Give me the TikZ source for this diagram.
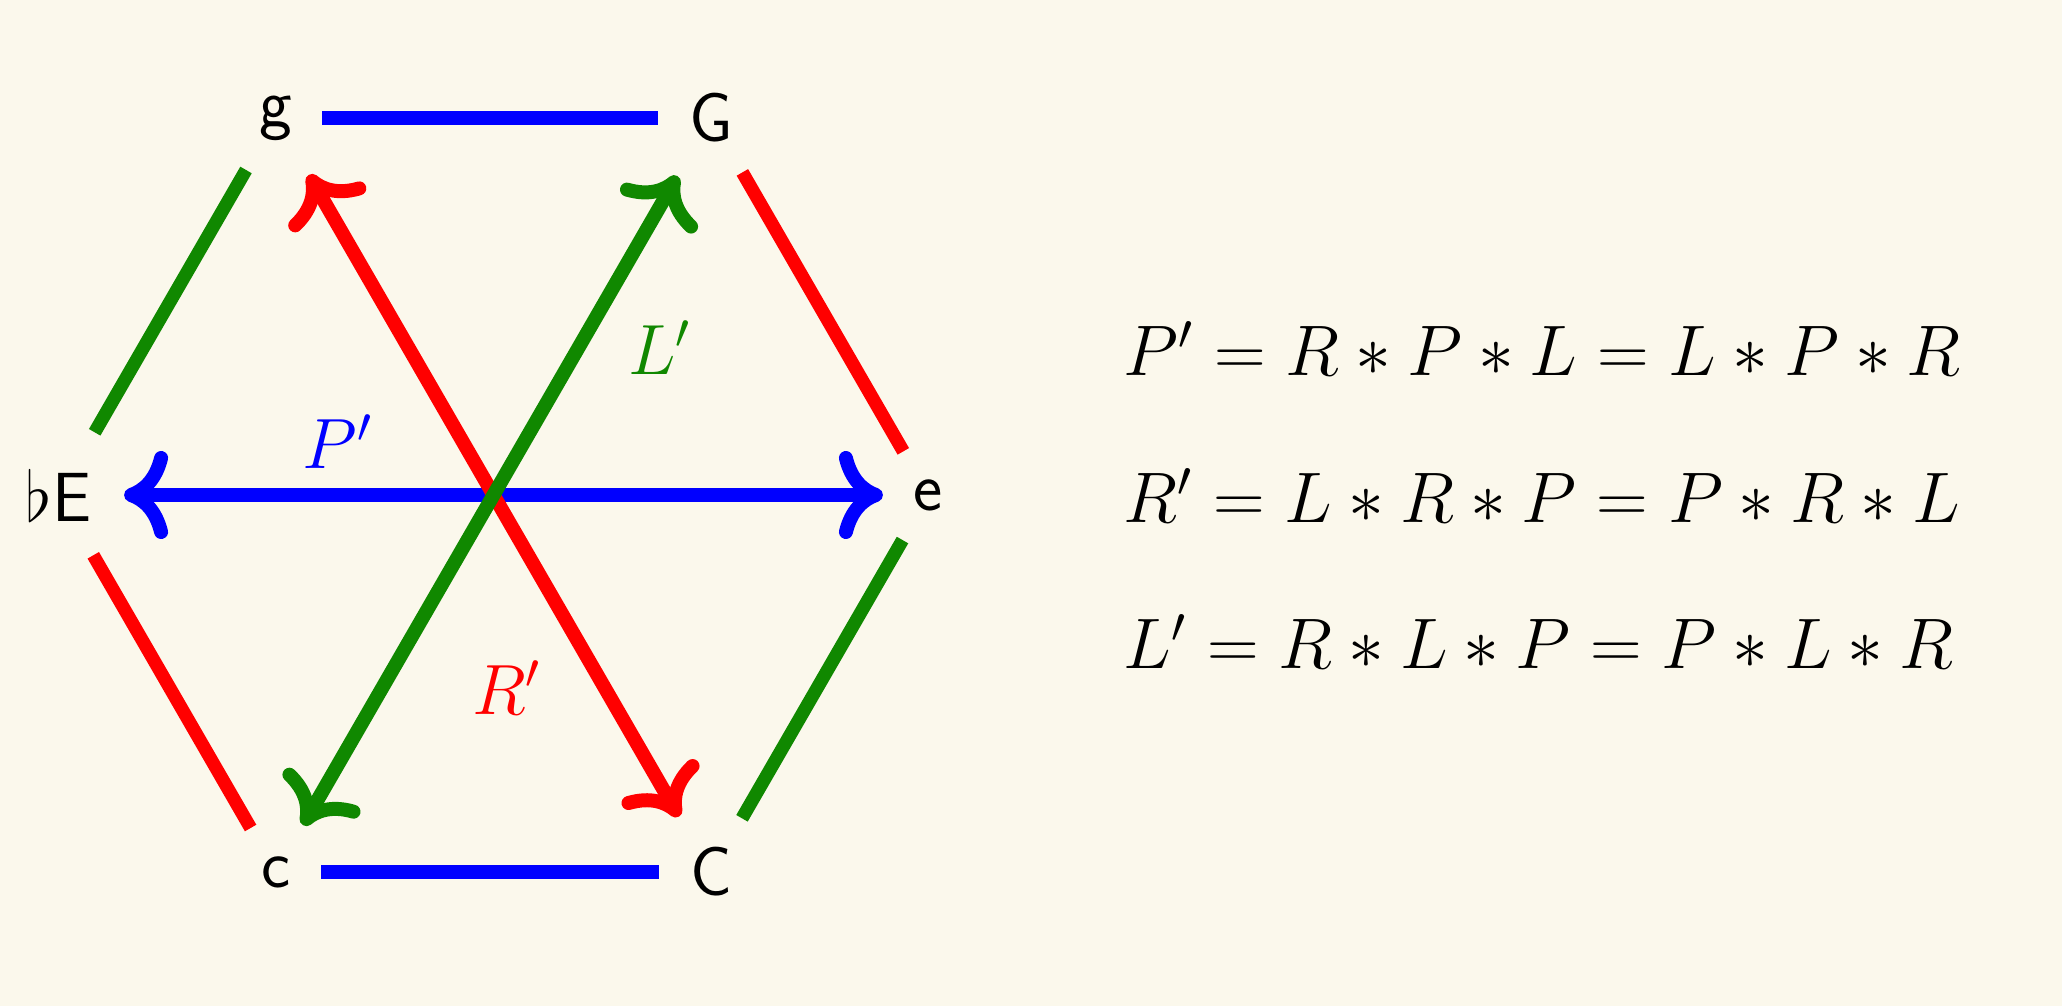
\RequirePackage{fix-cm}
\documentclass[tikz,border=0pt]{standalone}
\usetikzlibrary{arrows.meta}
\definecolor{bgc}{RGB}{251,248,236}
\definecolor{pblue}{RGB}{0,0,255}
\definecolor{pred}{RGB}{255,0,0}
\definecolor{pgreen}{RGB}{16,136,0}
\begin{document}
\begin{tikzpicture}[x=0.25pt,y=-0.25pt,
  lbl/.style={font=\fontsize{17.4}{21}\selectfont\sffamily, inner sep=0pt},
  side/.style={line width=3.3pt},
  rel/.style={line width=3.5pt, {Computer Modern Rightarrow[length=11pt,width=22pt]}-{Computer Modern Rightarrow[length=11pt,width=22pt]}},
  mlbl/.style={font=\fontsize{17.8}{22}\selectfont, inner sep=0pt},
  eq/.style={font=\fontsize{17.9}{22}\selectfont, anchor=base west, inner sep=0pt}]
\fill[bgc] (0,0) rectangle (2062,1006);
\useasboundingbox (0,0) rectangle (2062,1006);
% vertices
\node[lbl] (g) at (276,118) {g};
\node[lbl] (G) at (711,118) {G};
\node[lbl] (e) at (928.5,495) {e};
\node[lbl] (C) at (711,872) {C};
\node[lbl] (c) at (276,872) {c};
\node[lbl] (Eb) at (58.5,495) {$\flat$E};
% sides
\draw[side,pblue,shorten <=11.5pt,shorten >=13.25pt] (g.center) -- (G.center);
\draw[side,pgreen,shorten <=18.1pt,shorten >=15pt] (Eb.center) -- (g.center);
\draw[side,pred,shorten <=15.7pt,shorten >=12.6pt] (G.center) -- (e.center);
\draw[side,pred,shorten <=17.4pt,shorten >=12.7pt] (Eb.center) -- (c.center);
\draw[side,pgreen,shorten <=13pt,shorten >=15.5pt] (e.center) -- (C.center);
\draw[side,pblue,shorten <=11.25pt,shorten >=13pt] (c.center) -- (C.center);
% transformations
\draw[rel,pblue,shorten <=16.4pt,shorten >=11.4pt] (Eb.center) -- (e.center);
\draw[rel,pred,shorten <=16.4pt,shorten >=16pt] (g.center) -- (C.center);
\draw[rel,pgreen,shorten <=16.75pt,shorten >=13.5pt] (G.center) -- (c.center);
% labels
\node[mlbl,text=pblue] (Pl) at (338,442) {$P'$};
\node[mlbl,text=pgreen] (Ll) at (660,348) {$L'$};
\node[mlbl,text=pred] (Rl) at (507,688) {$R'$};
% equations
\node[eq] (eq1) at (1123,375) {$P' = R*P*L = L*P*R$};
\node[eq] (eq2) at (1123,522) {$R' = L*R*P = P*R*L$};
\node[eq] (eq3) at (1123,668) {$L' = R*L*P = P*L*R$};
\end{tikzpicture}
\end{document}
